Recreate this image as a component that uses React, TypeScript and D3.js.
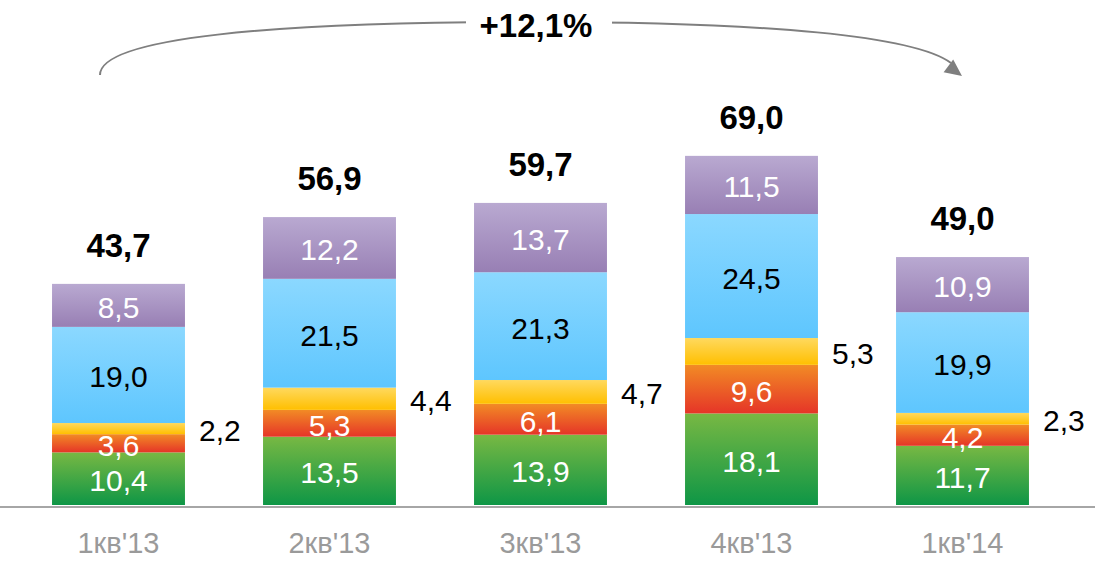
import React from "react";
import * as d3 from "d3";

const categories = ["1кв'13", "2кв'13", "3кв'13", "4кв'13", "1кв'14"];
const greenValues = [10.4, 13.5, 13.9, 18.1, 11.7];
const redValues = [3.6, 5.3, 6.1, 9.6, 4.2];
const yellowValues = [2.2, 4.4, 4.7, 5.3, 2.3];
const blueValues = [19.0, 21.5, 21.3, 24.5, 19.9];
const purpleValues = [8.5, 12.2, 13.7, 11.5, 10.9];
const totals = [43.7, 56.9, 59.7, 69.0, 49.0];
const growthLabel = "+12,1%";

const W = 1095;
const H = 563;
const FONT = "'Liberation Sans', Arial, Helvetica, sans-serif";

type Series = {
  key: string;
  values: number[];
  top: string;
  bottom: string;
  label: "inside-white" | "inside-black" | "outside";
};

const series: Series[] = [
  { key: "green", values: greenValues, top: "#78b843", bottom: "#0e9646", label: "inside-white" },
  { key: "red", values: redValues, top: "#f28b25", bottom: "#e53528", label: "inside-white" },
  { key: "yellow", values: yellowValues, top: "#ffd95e", bottom: "#ffbf00", label: "outside" },
  { key: "blue", values: blueValues, top: "#8bd8ff", bottom: "#5ec6fe", label: "inside-black" },
  { key: "purple", values: purpleValues, top: "#b9a9d1", bottom: "#987fb4", label: "inside-white" },
];

const fmt = (v: number) => v.toFixed(1).replace(".", ",");

export default function App() {
  const x = d3
    .scaleBand<string>()
    .domain(categories)
    .range([13, 1068])
    .paddingInner(0.37)
    .paddingOuter(0.185);
  const baseY = 505;
  const y = d3.scaleLinear().domain([0, 70]).range([baseY, baseY - 70 * 5.06]);

  const stackData = categories.map((c, i) => {
    const row: any = { cat: c };
    series.forEach((s) => (row[s.key] = s.values[i]));
    return row;
  });
  const stacked = d3.stack<any>().keys(series.map((s) => s.key))(stackData);

  const arrowPath = "M100,75 C100,38 270,22 531,22 C 770,22 915,36 951,63";
  const tip = [962, 76];
  const dir = [951 - 915, 63 - 36];
  const len = Math.hypot(dir[0], dir[1]);
  const ux = dir[0] / len, uy = dir[1] / len;
  const headLen = 17, headW = 8;
  const bx = tip[0] - ux * headLen, by = tip[1] - uy * headLen;
  const head = `M${tip[0]},${tip[1]} L${bx - uy * headW},${by + ux * headW} L${bx + uy * headW},${by - ux * headW} Z`;

  return (
    <svg width={W} height={H} style={{ display: "block", position: "absolute", left: 0, top: 0 }} fontFamily={FONT}>
      <defs>
        {series.map((s) => (
          <linearGradient key={s.key} id={`g-${s.key}`} x1="0" y1="0" x2="0" y2="1">
            <stop offset="0%" stopColor={s.top} />
            <stop offset="100%" stopColor={s.bottom} />
          </linearGradient>
        ))}
      </defs>
      <rect width={W} height={H} fill="#fff" />

      {stacked.map((layer, li) => {
        const s = series[li];
        return (
          <g key={s.key}>
            {layer.map((d, i) => {
              const cat = categories[i];
              const x0 = x(cat)!;
              const y0 = y(d[1]);
              const h = y(d[0]) - y(d[1]);
              return (
                <rect key={cat} x={x0} y={y0} width={x.bandwidth()} height={h} fill={`url(#g-${s.key})`} />
              );
            })}
          </g>
        );
      })}

      {stacked.map((layer, li) => {
        const s = series[li];
        return (
          <g key={s.key + "-lbl"} fontSize={30}>
            {layer.map((d, i) => {
              const cat = categories[i];
              const cy = (y(d[0]) + y(d[1])) / 2;
              const v = s.values[i];
              if (s.label === "outside") {
                return (
                  <text key={cat} x={x(cat)! + x.bandwidth() + 35} y={cy + 2} textAnchor="middle" dominantBaseline="central" fill="#000">
                    {fmt(v)}
                  </text>
                );
              }
              return (
                <text
                  key={cat}
                  x={x(cat)! + x.bandwidth() / 2}
                  y={cy + 2}
                  textAnchor="middle"
                  dominantBaseline="central"
                  fill={s.label === "inside-black" ? "#000" : "#fff"}
                >
                  {fmt(v)}
                </text>
              );
            })}
          </g>
        );
      })}

      {categories.map((c, i) => (
        <text key={c + "-t"} x={x(c)! + x.bandwidth() / 2} y={y(totals[i]) - 27} textAnchor="middle" fontSize={33} fontWeight="bold" fill="#000">
          {fmt(totals[i])}
        </text>
      ))}

      <line x1={0} x2={W} y1={baseY + 2} y2={baseY + 2} stroke="#a6a6a6" strokeWidth={2} />

      {categories.map((c) => (
        <text key={c + "-ax"} x={x(c)! + x.bandwidth() / 2} y={553} textAnchor="middle" fontSize={29} fill="#9a9a9a">
          {c}
        </text>
      ))}

      <path d={arrowPath} fill="none" stroke="#7f7f7f" strokeWidth={2} />
      <path d={head} fill="#7f7f7f" />
      <rect x={466} y={5} width={146} height={38} fill="#fff" />
      <text x={536} y={37} textAnchor="middle" fontSize={33} fontWeight="bold" fill="#000">
        {growthLabel}
      </text>
    </svg>
  );
}
